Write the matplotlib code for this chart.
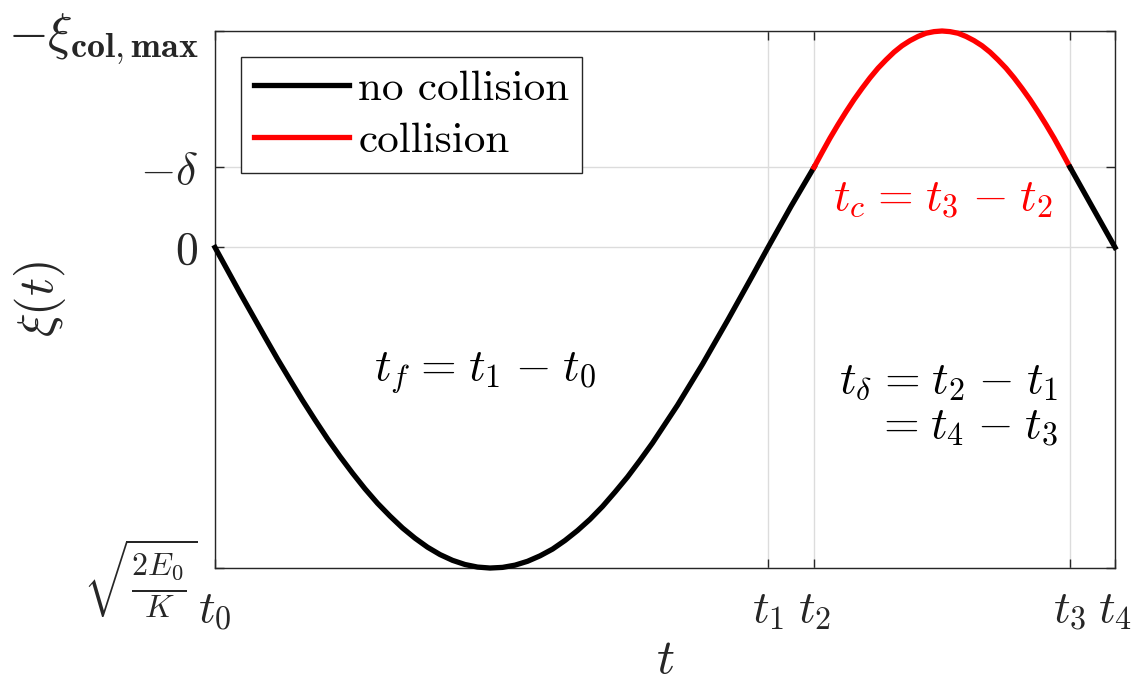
"""Displacement xi(t) over one flight/collision cycle."""
import matplotlib as mpl; mpl.use("Agg")
import matplotlib.pyplot as plt

plt.rcParams.update({"font.family": "serif", "font.serif": ["cmr10"], "mathtext.fontset": "cm",
                     "axes.unicode_minus": False, "font.size": 31})
C_FREE, C_COL, C_AX, C_GRID = "black", "#ff0000", "#262626", "#dcdcdc"
SP = r"\hspace{0.09}"  # TeX-like gap around = and -

# instants t0..t4 and the levels on the xi axis
t_marks = [0.0, 5.53, 5.99, 8.55, 9.0]
t_labels = [r"$t_0$", r"$t_1$", r"$t_2$", r"$t_3$", r"$t_4$"]
xi_marks = [-0.675, -0.25, 0.0, 1.0]
xi_labels = [r"$-\xi_{\mathbf{col,max}}$", r"$-\delta$", r"$0$", r"$\sqrt{\frac{2E_0}{K}}$"]

# free flight t0 -> t2
t_free = [0.0, 0.125, 0.25, 0.375, 0.5, 0.625, 0.75, 0.875, 1.0, 1.125, 1.25, 1.375, 1.5,
          1.625, 1.75, 1.875, 2.0, 2.125, 2.25, 2.375, 2.5, 2.625, 2.75, 2.875, 3.0, 3.125,
          3.25, 3.375, 3.5, 3.625, 3.75, 3.875, 4.0, 4.125, 4.25, 4.375, 4.5, 4.625, 4.75,
          4.875, 5.0, 5.125, 5.25, 5.375, 5.5, 5.53, 5.76, 5.99]
xi_free = [0.0, 0.071, 0.142, 0.211, 0.280, 0.348, 0.413, 0.477, 0.538, 0.597, 0.652, 0.704,
           0.753, 0.798, 0.838, 0.875, 0.907, 0.935, 0.958, 0.976, 0.989, 0.997, 1.0, 0.998,
           0.991, 0.979, 0.962, 0.941, 0.914, 0.883, 0.848, 0.808, 0.763, 0.716, 0.664, 0.610,
           0.551, 0.492, 0.428, 0.364, 0.296, 0.228, 0.158, 0.088, 0.017, 0.0, -0.128, -0.25]
# contact t2 -> t3
t_col = [5.99, 6.07, 6.15, 6.23, 6.31, 6.39, 6.47, 6.55, 6.63, 6.71, 6.79, 6.87, 6.95, 7.03,
         7.11, 7.19, 7.27, 7.35, 7.43, 7.51, 7.59, 7.67, 7.75, 7.83, 7.91, 7.99, 8.07, 8.15,
         8.23, 8.31, 8.39, 8.47, 8.55]
xi_col = [-0.250, -0.296, -0.341, -0.383, -0.423, -0.461, -0.496, -0.529, -0.559, -0.585,
          -0.609, -0.629, -0.645, -0.658, -0.668, -0.673, -0.675, -0.673, -0.668, -0.658,
          -0.645, -0.629, -0.609, -0.585, -0.559, -0.529, -0.496, -0.461, -0.423, -0.383,
          -0.341, -0.296, -0.250]
# release t3 -> t4
t_rel = [8.55, 8.78, 9.0]
xi_rel = [-0.25, -0.122, 0.0]

fig = plt.figure(figsize=(11.4, 6.98), dpi=100)
ax = fig.add_axes([0.1886, 0.1862, 0.7895, 0.7694])
kw = dict(lw=3.8, clip_on=False, zorder=3, solid_joinstyle="round")
ax.plot(t_free, xi_free, c=C_FREE, label="no collision", **kw)
ax.plot(t_col, xi_col, c=C_COL, label="collision", **kw)
ax.plot(t_rel, xi_rel, c=C_FREE, **kw)

ax.set_xlim(t_marks[0], t_marks[-1]); ax.set_ylim(xi_marks[-1], xi_marks[0])
ax.set_xticks(t_marks); ax.set_xticklabels(t_labels)
ax.set_yticks(xi_marks); ax.set_yticklabels(xi_labels)
ax.grid(True, color=C_GRID, lw=1.0); ax.set_axisbelow(True)
ax.tick_params(direction="in", length=6.5, width=1.0, color=C_AX, top=True, right=True,
               labelcolor=C_AX, labelsize=33)
ax.get_yticklabels()[0].set_fontsize(37)  # the xi_col,max label sits a bit larger
ax.tick_params(axis="x", pad=16); ax.tick_params(axis="y", pad=12)
for s in ax.spines.values(): s.set_color(C_AX); s.set_linewidth(1.0)
ax.set_xlabel(r"$t$", fontsize=36, color=C_AX, labelpad=4)
ax.set_ylabel(r"$\xi(t)$", fontsize=36, color=C_AX)
ax.yaxis.set_label_coords(-0.163, 0.5)

ax.text(2.7, 0.39, rf"$t_f{SP}={SP}t_1{SP}-{SP}t_0$", ha="center", va="center", fontsize=33)
ax.text(7.28, -0.15, rf"$t_c{SP}={SP}t_3{SP}-{SP}t_2$", ha="center", va="center", fontsize=33,
        color=C_COL)
ax.text(8.43, 0.42, rf"$t_\delta{SP}={SP}t_2{SP}-{SP}t_1$", ha="right", va="center", fontsize=33)
ax.text(8.43, 0.56, rf"$={SP}t_4{SP}-{SP}t_3$", ha="right", va="center", fontsize=33)

leg = ax.legend(loc="upper left", bbox_to_anchor=(0.029, 0.952), frameon=True, fancybox=False,
                edgecolor=C_AX, framealpha=1, fontsize=31, handlelength=2.2, handletextpad=0.22,
                borderpad=0.3, labelspacing=0.32, borderaxespad=0)
leg.get_frame().set_linewidth(1.0)
fig.savefig("out.png", dpi=100)
plt.close(fig)
